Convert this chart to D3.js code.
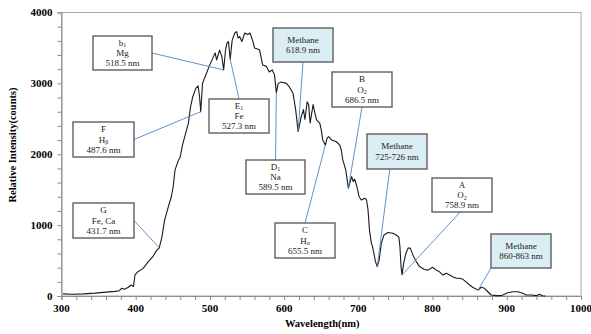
<!DOCTYPE html>
<html>
<head>
<meta charset="utf-8">
<script src="https://cdn.jsdelivr.net/npm/d3@7/dist/d3.min.js"></script>
<style>
  body { margin: 0; background: #fff; }
  text { font-family: "Liberation Serif", "Times New Roman", "DejaVu Serif", serif; }
</style>
</head>
<body>
<svg id="chart"></svg>
<script>
// spectrum
const wavelength = [302, 315, 330, 345, 360, 372, 378, 381, 385, 390, 394, 397, 399, 403, 410, 417, 423, 428, 431.7,
  435, 439, 444, 448, 450.5, 453, 457, 460, 463, 468.5, 471, 474, 477, 481, 484, 486, 487.6, 490, 496, 499,
  504, 507, 509, 513, 516, 518.5, 521, 523, 525, 527.3, 530, 533.5, 536, 538, 540, 543, 547, 551, 554, 558,
  560, 565, 567, 571, 576, 580, 584, 587, 589.5, 592, 596, 603, 607, 612, 615.5, 618.9, 623, 626, 628, 631,
  633, 635, 639, 641, 643.5, 648, 650, 652, 655.5, 658, 660, 664, 670, 675, 677, 679, 683, 686.5, 689, 691,
  693, 695, 698, 701, 704, 708.5, 711, 713, 715, 717.5, 719, 721, 723, 725.5, 728, 731, 734.5, 740, 746.6,
  751, 754.6, 756, 757.5, 758.9, 761, 764, 767, 770, 773.5, 778, 782.5, 789, 794, 800, 805, 809, 814, 818.5,
  823, 827, 832, 836, 841, 845, 850, 854, 859, 861.5, 865.5, 870, 874.5, 879, 886, 892, 897, 901, 908, 915,
  921.5, 926, 933, 940, 944, 948, 952];
const counts = [30, 25, 30, 40, 55, 65, 75, 108, 95, 123, 155, 135, 297, 343, 390, 485, 555, 640, 680,
  815, 1073, 1260, 1400, 1545, 1780, 1900, 1965, 2130, 2345, 2440, 2675, 2815, 2930, 2966, 2815, 2600, 3000, 3160, 3240,
  3360, 3430, 3330, 3470, 3380, 3190, 3470, 3570, 3590, 3340, 3610, 3710, 3730, 3640, 3660, 3590, 3710, 3690, 3710, 3590,
  3500, 3480, 3470, 3260, 3240, 3160, 3190, 3120, 2870, 3000, 3020, 3000, 2950, 2860, 2630, 2320, 2530, 2630, 2490, 2740,
  2700, 2440, 2700, 2600, 2490, 2440, 2345, 2200, 2130, 2230, 2250, 2200, 2180, 2130, 2060, 1920, 1780, 1520, 1615, 1685,
  1615, 1650, 1545, 1400, 1355, 1380, 1355, 1215, 930, 745, 700, 600, 485, 415, 510, 745, 860, 895, 885,
  860, 830, 700, 415, 297, 460, 600, 675, 675, 580, 485, 415, 375, 365, 405, 365, 345, 295, 320,
  297, 272, 250, 250, 235, 200, 155, 123, 95, 85, 123, 108, 60, 14, 5, 5, 25, 45, 60, 60,
  38, 14, 14, 5, 25, 3, 0];

const xTickLabels = [300, 400, 500, 600, 700, 800, 900, 1000];
const yTickLabels = [0, 1000, 2000, 3000, 4000];

// absorption lines: text rows ("_" starts a subscript) and the wavelength pointed at
const lineLabels = [
  ["b_1", "Mg", "518.5 nm"],
  ["E_1", "Fe", "527.3 nm"],
  ["F", "H_β", "487.6 nm"],
  ["G", "Fe, Ca", "431.7 nm"],
  ["Methane", "618.9 nm"],
  ["B", "O_2", "686.5 nm"],
  ["Methane", "725-726 nm"],
  ["D_1", "Na", "589.5 nm"],
  ["C", "H_α", "655.5 nm"],
  ["A", "O_2", "758.9 nm"],
  ["Methane", "860-863 nm"]
];
const lineNm = [518.5, 527.3, 487.6, 431.7, 618.9, 686.5, 725.5, 589.5, 655.5, 758.9, 861.5];

// callout boxes: x, y, w, h and where the leader leaves the box (fraction of w, h)
const boxes = [
  [93, 36, 59, 34, 1, 0.5],
  [209, 99, 60, 34, 0.5, 0],
  [73, 122, 61, 35, 1, 0.5],
  [73, 203, 61, 35, 1, 0.5],
  [273, 28, 60, 34, 0.5, 1],
  [332, 72, 60, 35, 0.5, 1],
  [367, 134, 60, 35, 0.38, 1],
  [246, 160, 59, 34, 0.5, 0],
  [275, 223, 60, 35, 0.5, 0],
  [432, 178, 60, 34, 0.47, 1],
  [491, 234, 60, 34, 0, 1]
];

const width = 591, height = 334;
const margin = {left: 61.5, right: 10, top: 12.5, bottom: 38};
const serif = "'Liberation Serif', 'Times New Roman', 'DejaVu Serif', serif";

const svg = d3.select("#chart")
  .attr("width", width)
  .attr("height", height)
  .attr("font-family", serif);

const x = d3.scaleLinear().domain([300, 1000]).range([margin.left, width - margin.right]);
const y = d3.scaleLinear().domain([0, 4000]).range([height - margin.bottom, margin.top]);

// plot frame
svg.append("rect")
  .attr("x", x(300)).attr("y", y(4000))
  .attr("width", x(1000) - x(300)).attr("height", y(0) - y(4000))
  .attr("fill", "none").attr("stroke", "#a6a6a6").attr("stroke-width", 1);

// axes with minor ticks
const xAxis = svg.append("g")
  .attr("transform", `translate(0,${y(0)})`)
  .call(d3.axisBottom(x).tickValues(d3.range(300, 1001, 20)).tickSize(4).tickFormat(""));
const yAxis = svg.append("g")
  .attr("transform", `translate(${x(300)},0)`)
  .call(d3.axisLeft(y).tickValues(d3.range(0, 4001, 200)).tickSize(4).tickFormat(""));
[xAxis, yAxis].forEach(g => {
  g.attr("font-family", serif);
  g.select(".domain").attr("stroke", "#8c8c8c");
  g.selectAll(".tick line").attr("stroke", "#8c8c8c");
});

svg.append("g").selectAll("text")
  .data(xTickLabels)
  .enter().append("text")
    .attr("x", d => x(d))
    .attr("y", y(0) + 16)
    .attr("text-anchor", "middle")
    .style("font-family", serif)
    .style("font-size", "11px").style("font-weight", "bold")
    .text(d => d);

svg.append("g").selectAll("text")
  .data(yTickLabels)
  .enter().append("text")
    .attr("x", x(300) - 9)
    .attr("y", d => y(d) + 3.8)
    .attr("text-anchor", "end")
    .style("font-family", serif)
    .style("font-size", "11px").style("font-weight", "bold")
    .text(d => d);

svg.append("text")
  .attr("x", (x(300) + x(1000)) / 2 + 1)
  .attr("y", 327)
  .attr("text-anchor", "middle")
  .style("font-family", serif)
  .style("font-size", "10.5px").style("font-weight", "bold")
  .text("Wavelength(nm)");

svg.append("text")
  .attr("transform", "translate(16,145)rotate(-90)")
  .attr("text-anchor", "middle")
  .style("font-family", serif)
  .style("font-size", "10.5px").style("font-weight", "bold")
  .text("Relative Intensity(counts)");

// spectrum
const spectrum = wavelength.map((w, i) => [w, counts[i]]);
const line = d3.line().x(d => x(d[0])).y(d => y(d[1]));
svg.append("path")
  .datum(spectrum)
  .attr("d", line)
  .attr("fill", "none")
  .attr("stroke", "#1a1a1a")
  .attr("stroke-width", 1.1)
  .attr("stroke-linejoin", "round");

function countsAt(nm) {
  const i = d3.bisector(d => d).left(wavelength, nm);
  if (wavelength[i] === nm) return counts[i];
  const t = (nm - wavelength[i - 1]) / (wavelength[i] - wavelength[i - 1]);
  return counts[i - 1] + t * (counts[i] - counts[i - 1]);
}

// callouts
const notes = svg.append("g");
lineLabels.forEach((rows, i) => {
  const [bx, by, bw, bh, ax, ay] = boxes[i];
  const methane = rows[0] === "Methane";

  notes.append("line")
    .attr("x1", bx + ax * bw).attr("y1", by + ay * bh)
    .attr("x2", x(lineNm[i])).attr("y2", y(countsAt(lineNm[i])))
    .attr("stroke", "#4f86c6").attr("stroke-width", 0.9);

  notes.append("rect")
    .attr("x", bx).attr("y", by).attr("width", bw).attr("height", bh)
    .attr("fill", methane ? "#dbeef4" : "#fff")
    .attr("stroke", "#5f5f5f").attr("stroke-width", 1.4);

  const step = 10.3;
  const y0 = by + bh / 2 - (rows.length - 1) * step / 2 + 3;
  rows.forEach((row, j) => {
    const t = notes.append("text")
      .attr("x", bx + bw / 2)
      .attr("y", y0 + j * step)
      .attr("text-anchor", "middle")
      .style("font-family", serif)
      .style("font-size", "9px")
      .attr("fill", "#222");
    const parts = row.split("_");
    t.append("tspan").text(parts[0]);
    if (parts[1]) t.append("tspan").attr("dy", 1.5).style("font-size", "6px").text(parts[1]);
  });
});
</script>
</body>
</html>
